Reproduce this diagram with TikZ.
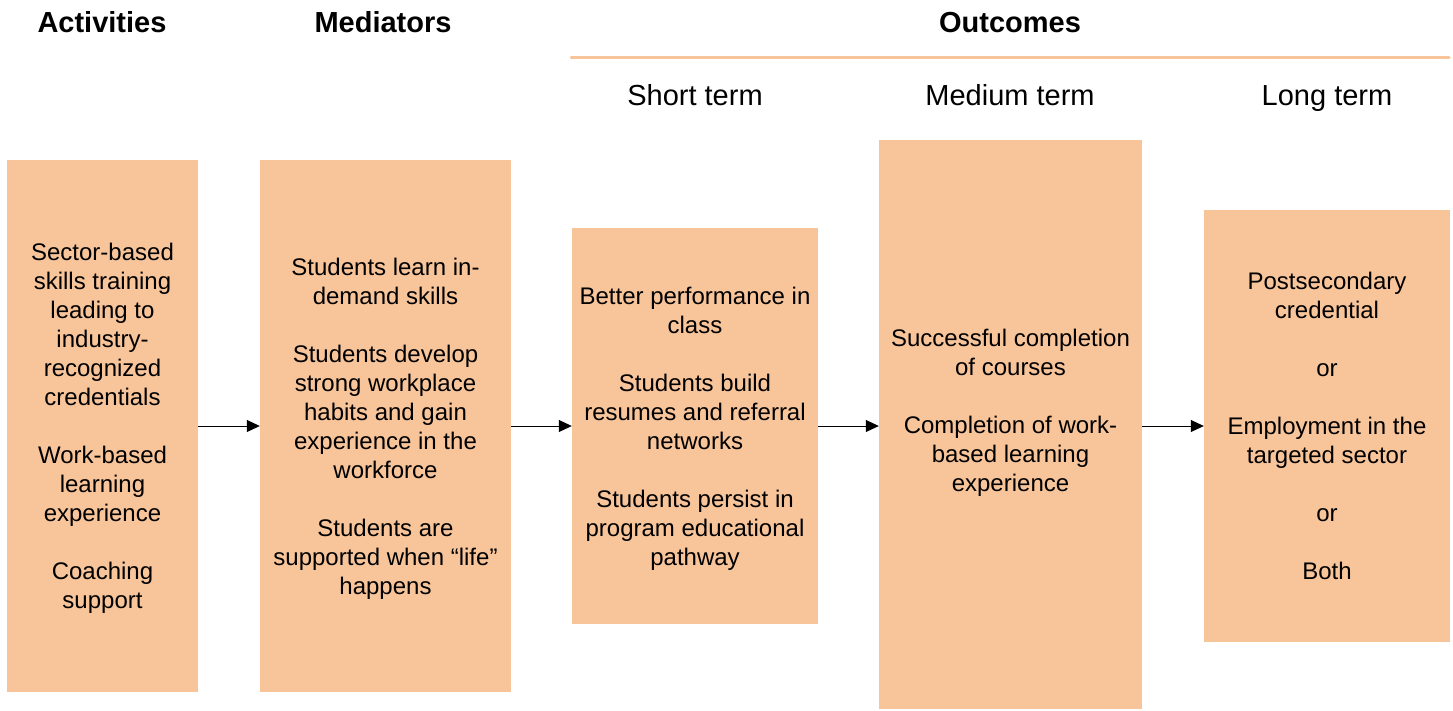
\documentclass[tikz,border=0pt]{standalone}
\usepackage{fontspec}
\setmainfont{Liberation Sans}
\usetikzlibrary{arrows.meta}
\definecolor{boxfill}{HTML}{F8C49A}
\tikzset{
  x=1pt,y=-1pt,
  box/.style={fill=boxfill, draw=none, inner sep=0pt, align=center,
    font=\fontsize{24}{29}\selectfont},
  head/.style={font=\fontsize{29}{34}\selectfont\bfseries, text height=21pt, text depth=6pt},
  subhead/.style={font=\fontsize{29}{34}\selectfont, text height=21pt, text depth=6pt},
  flow/.style={draw=black, line width=0.8pt, -{Triangle[width=12pt,length=13pt]}},
}
\begin{document}
\begin{tikzpicture}
\useasboundingbox (0,0) rectangle (1453,710);
% headings
\node[head] (hact) at (102,25) {Activities};
\node[head] (hmed) at (383,25) {Mediators};
\node[head] (hout) at (1010,25) {Outcomes};
\coordinate (ol) at (571,57);
\coordinate (or) at (1449,57);
\draw[boxfill, line width=3pt, line cap=round] (ol) -- (or);
\node[subhead] (hs) at (695,98) {Short term};
\node[subhead] (hm) at (1010,98) {Medium term};
\node[subhead] (hl) at (1327,98) {Long term};
% boxes
\node[box, minimum width=191, minimum height=532] (act) at (102.5,426)
 {\rule{0pt}{22pt}Sector-based\\skills training\\leading to\\industry-\\recognized\\credentials\\[29pt]Work-based\\learning\\experience\\[29pt]Coaching\\support};
\node[box, minimum width=251, minimum height=532] (med) at (385.5,426)
 {\rule{0pt}{22pt}Students learn in-\\demand skills\\[29pt]Students develop\\strong workplace\\habits and gain\\experience in the\\workforce\\[29pt]Students are\\supported when ``life''\\happens};
\node[box, minimum width=246, minimum height=396] (st) at (695,426)
 {\rule{0pt}{22pt}Better performance in\\class\\[29pt]Students build\\resumes and referral\\networks\\[29pt]Students persist in\\program educational\\pathway};
\node[box, minimum width=263, minimum height=569] (mt) at (1010.5,424.5)
 {Successful completion\\of courses\\[29pt]Completion of work-\\based learning\\experience\\\mbox{}};
\node[box, minimum width=246, minimum height=432] (lt) at (1327,426)
 {Postsecondary\\credential\\[29pt]or\\[29pt]Employment in the\\targeted sector\\[29pt]or\\[29pt]Both};
% arrows
\draw[flow] (act.east |- 0,426) -- (med.west |- 0,426);
\draw[flow] (med.east |- 0,426) -- (st.west |- 0,426);
\draw[flow] (st.east |- 0,426) -- (mt.west |- 0,426);
\draw[flow] (mt.east |- 0,426) -- (lt.west |- 0,426);
\end{tikzpicture}
\end{document}
